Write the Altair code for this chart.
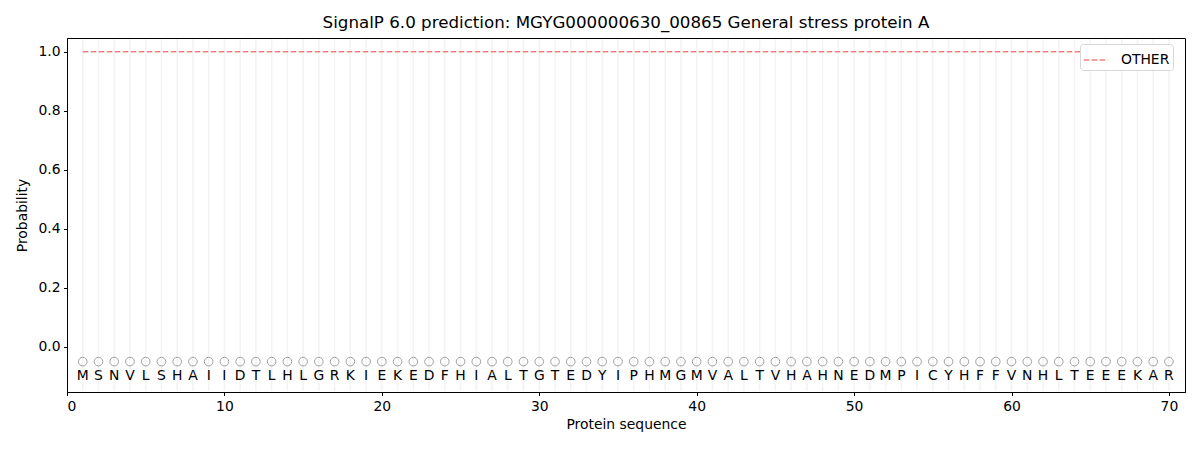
import altair as alt
import pandas as pd

title_text = "SignalP 6.0 prediction: MGYG000000630_00865 General stress protein A"
sequence = list("MSNVLSHAIIDTLHLGRKIEKEDFHIALTGTEDYIPHMGMVALTVHAHNEDMPICYHFFVNHLTEEEKAR")
positions = list(range(1, len(sequence) + 1))
other_prob = [1.0] * len(sequence)
marker_y = [-0.05] * len(sequence)
letter_y = [-0.1] * len(sequence)
x_ticks = [0, 10, 20, 30, 40, 50, 60, 70]
y_ticks = [0.0, 0.2, 0.4, 0.6, 0.8, 1.0]

W, H = 1118, 354
FONT = "DejaVu Sans"

df_line = pd.DataFrame({"pos": positions, "prob": other_prob, "label": ["OTHER"] * len(positions)})
df_seq = pd.DataFrame({"pos": positions, "aa": sequence, "my": marker_y, "ly": letter_y})

xs = alt.Scale(domain=[0, 71.02], nice=False, zero=False)
ys = alt.Scale(domain=[-0.153, 1.047], nice=False, zero=False)

grid = alt.Chart(df_seq).mark_rule(color="#f3f3f3", strokeWidth=1.5).encode(
    x=alt.X("pos:Q", scale=xs,
            axis=alt.Axis(values=x_ticks, title="Protein sequence", grid=False, format="d")),
    y=alt.value(1),
    y2=alt.value(H - 1),
)

line = alt.Chart(df_line).mark_line(strokeDash=[5.5, 2.5], strokeWidth=1.5).encode(
    x=alt.X("pos:Q", scale=xs),
    y=alt.Y("prob:Q", scale=ys,
            axis=alt.Axis(values=y_ticks, format=".1f", title="Probability", grid=False)),
    color=alt.Color("label:N",
                    scale=alt.Scale(domain=["OTHER"], range=["#f08080"]),
                    legend=alt.Legend(title=None, orient="none", legendX=1013, legendY=6,
                                      symbolType="stroke",
                                      symbolDash=[5.5, 2.5], symbolStrokeWidth=1.5,
                                      symbolSize=600, labelFontSize=13.9, labelFont=FONT,
                                      labelColor="black", labelOffset=12,
                                      strokeColor="#d6d6d6", cornerRadius=3, fillColor="white",
                                      padding=3)),
)

circles = alt.Chart(df_seq).mark_point(shape="circle", filled=False, color="#7a7a7a",
                                       size=75, strokeWidth=1).encode(
    x=alt.X("pos:Q", scale=xs),
    y=alt.Y("my:Q", scale=ys),
)

letters = alt.Chart(df_seq).mark_text(fontSize=13.9, font=FONT, color="black",
                                      baseline="middle", align="center").encode(
    x=alt.X("pos:Q", scale=xs),
    y=alt.Y("ly:Q", scale=ys),
    text="aa:N",
)

chart = alt.layer(grid, line, circles, letters).properties(
    width=W, height=H,
    title=alt.TitleParams(title_text, fontSize=16.7, font=FONT, fontWeight="normal",
                          color="black", offset=6),
    autosize=alt.AutoSizeParams(type="none"),
    padding={"left": 59, "top": 30, "right": 7, "bottom": 50},
).configure_view(stroke="black", strokeWidth=1).configure_axis(
    labelFont=FONT, titleFont=FONT, labelFontSize=13.9, titleFontSize=13.9,
    labelColor="black", titleColor="black", titleFontWeight="normal",
    domainColor="black", tickColor="black", tickSize=3.5, labelPadding=3.5,
).configure_axisX(titlePadding=5).configure_axisY(titlePadding=8)

chart.save("out.html", embed_options={"renderer": "svg", "actions": False})
